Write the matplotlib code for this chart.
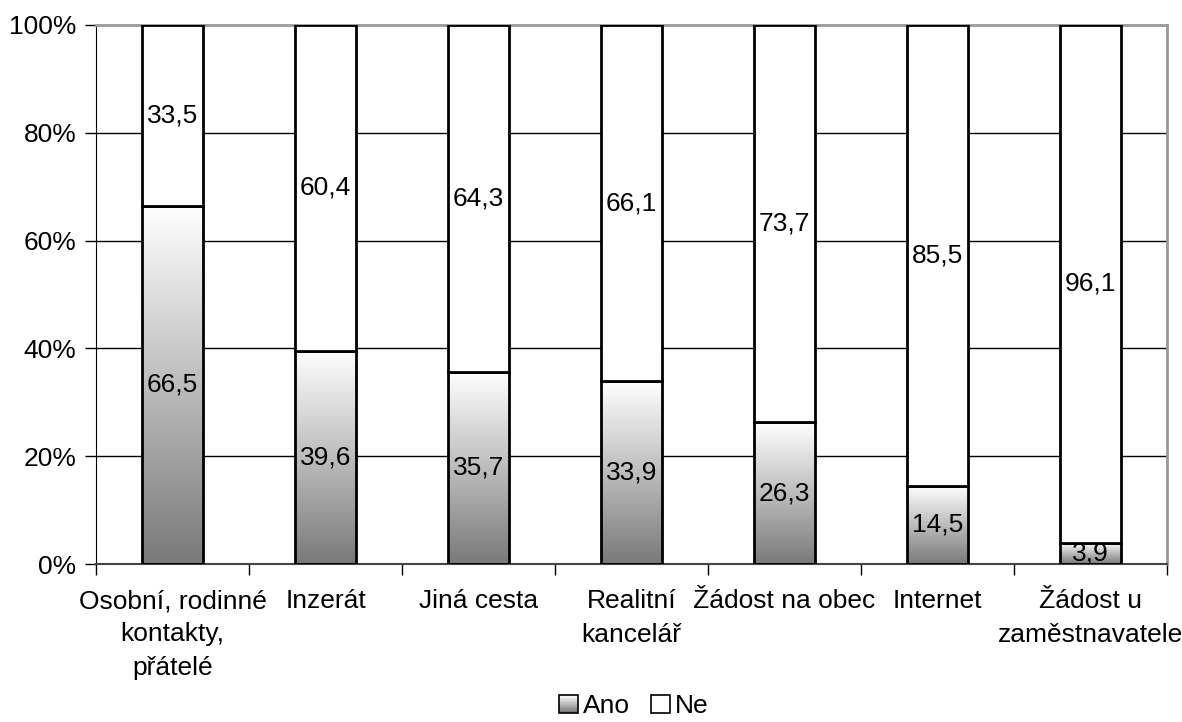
import matplotlib
matplotlib.use('Agg')
import matplotlib.pyplot as plt
import matplotlib.patches as mpatches
from matplotlib.colors import LinearSegmentedColormap
from matplotlib.legend_handler import HandlerBase
import numpy as np

# Survey results: how people found their job (share in %)
categories = ['Osobní, rodinné\nkontakty,\npřátelé', 'Inzerát', 'Jiná cesta',
              'Realitní\nkancelář', 'Žádost na obec', 'Internet',
              'Žádost u\nzaměstnavatele']
ano = [66.5, 39.6, 35.7, 33.9, 26.3, 14.5, 3.9]
ne = [33.5, 60.4, 64.3, 66.1, 73.7, 85.5, 96.1]
yticks = [0, 20, 40, 60, 80, 100]
ytick_labels = ['0%', '20%', '40%', '60%', '80%', '100%']

plt.rcParams['font.family'] = ['Liberation Sans', 'DejaVu Sans']
FS = 19

grad = LinearSegmentedColormap.from_list('grey_grad', ['#7a7a7a', '#ffffff'])


class GradientHandler(HandlerBase):
    def create_artists(self, legend, orig_handle, xdescent, ydescent,
                       width, height, fontsize, trans):
        side = min(width, height)
        x0 = xdescent + width - side
        y0 = -ydescent
        artists = []
        n = 12
        for k in range(n):
            r = mpatches.Rectangle((x0, y0 + side * k / n), side, side / n,
                                   facecolor=grad(k / (n - 1)), edgecolor='none',
                                   transform=trans)
            artists.append(r)
        artists.append(mpatches.Rectangle((x0, y0), side, side, facecolor='none',
                                          edgecolor='black', lw=1.2, transform=trans))
        return artists


class SquareHandler(HandlerBase):
    def create_artists(self, legend, orig_handle, xdescent, ydescent,
                       width, height, fontsize, trans):
        side = min(width, height)
        x0 = xdescent + width - side
        return [mpatches.Rectangle((x0, -ydescent), side, side, facecolor='white',
                                   edgecolor='black', lw=1.2, transform=trans)]


fig = plt.figure(figsize=(11.82, 7.22), dpi=100)
ax = fig.add_axes([96 / 1182, 1 - 564 / 722, (1167 - 96) / 1182, (564 - 25) / 722])

x = np.arange(len(categories))
width = 0.405

for y in yticks[1:-1]:
    ax.axhline(y, color='black', lw=1, zorder=0)

bars_ano = ax.bar(x, ano, width, facecolor='none', edgecolor='black', lw=2, zorder=3)
bars_ne = ax.bar(x, ne, width, bottom=ano, facecolor='white', edgecolor='black',
                 lw=2, zorder=3)

# vertical gradient inside each "Ano" bar
for b in bars_ano:
    bx, by = b.get_x(), b.get_y()
    bw, bh = b.get_width(), b.get_height()
    img = np.linspace(0, 1, 256).reshape(-1, 1)
    im = ax.imshow(img, cmap=grad, origin='lower', aspect='auto',
                   extent=[bx, bx + bw, by, by + bh], zorder=2)
    im.set_clip_path(b)

for i in range(len(categories)):
    ax.text(x[i], ano[i] / 2, f'{ano[i]:.1f}'.replace('.', ','), ha='center',
            va='center', fontsize=FS, zorder=5)
    ax.text(x[i], ano[i] + ne[i] / 2, f'{ne[i]:.1f}'.replace('.', ','), ha='center',
            va='center', fontsize=FS, zorder=5)

ax.set_xlim(-0.5, len(categories) - 0.5)
ax.set_ylim(0, 100)
ax.set_yticks(yticks)
ax.set_yticklabels(ytick_labels, fontsize=FS)
ax.set_xticks(x)
ax.set_xticklabels(categories, fontsize=FS, linespacing=1.5)
ax.tick_params(axis='x', length=0, pad=18)
ax.tick_params(axis='y', length=8, width=1, pad=6)
ax.set_xticks(np.arange(len(categories) + 1) - 0.5, minor=True)
ax.tick_params(axis='x', which='minor', length=8, width=1)

for s in ['top', 'right']:
    ax.spines[s].set_color('#999999')
    ax.spines[s].set_linewidth(2)
ax.spines['left'].set_color('black')
ax.spines['bottom'].set_color('#444444')
ax.spines['bottom'].set_linewidth(1.5)

h_ano = mpatches.Patch(label='Ano')
h_ne = mpatches.Patch(label='Ne')
fig.legend([h_ano, h_ne], ['Ano', 'Ne'], loc='center', bbox_to_anchor=(634 / 1182, 1 - 706 / 722),
           ncol=2, frameon=False, fontsize=FS, handlelength=0.7, handleheight=0.7,
           handletextpad=0.2, columnspacing=0.8,
           handler_map={h_ano: GradientHandler(), h_ne: SquareHandler()})

plt.savefig('out.png', dpi=100)
